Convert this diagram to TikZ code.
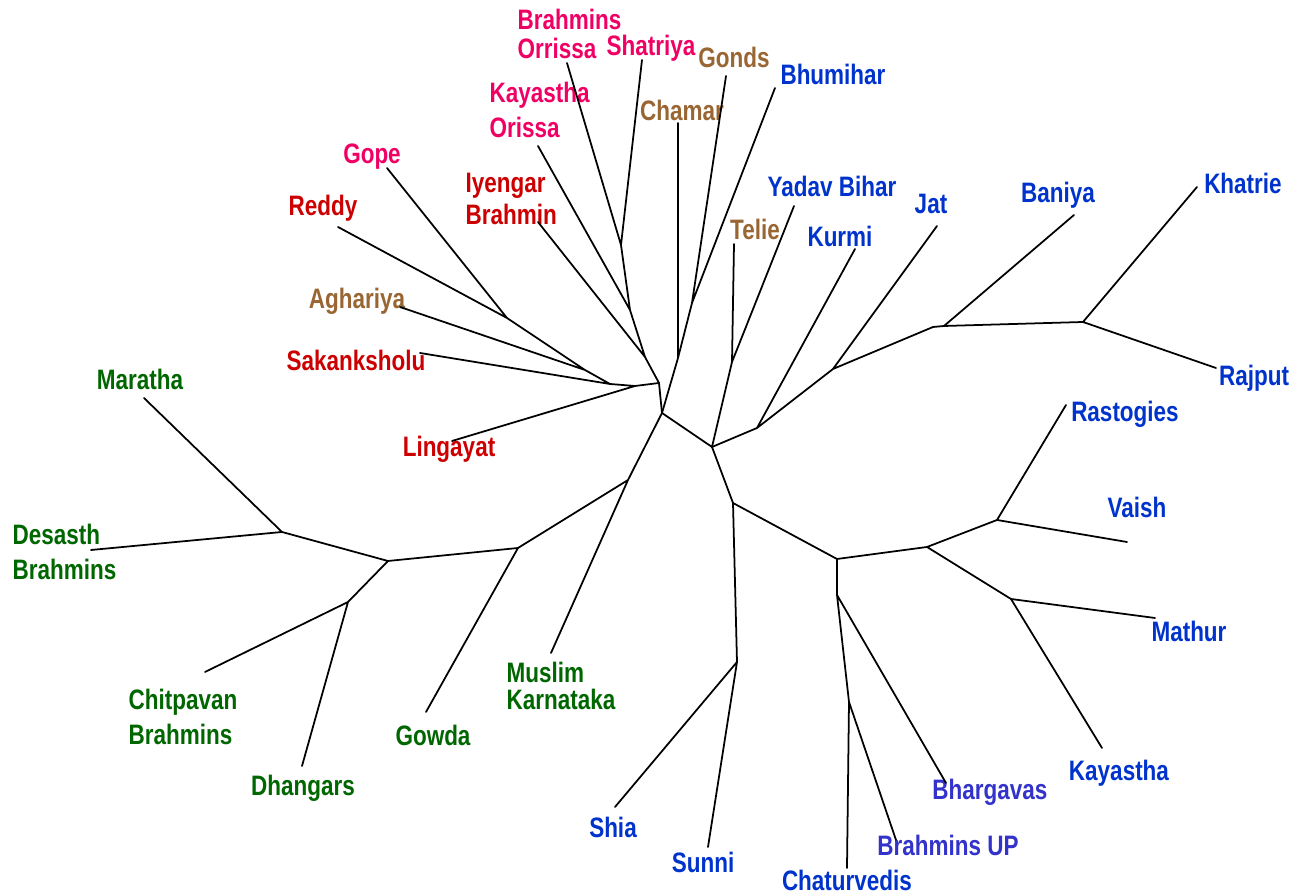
\documentclass[tikz,border=0pt]{standalone}
\usepackage{fontspec}
\newfontfamily\taxfont{Liberation Sans}[FakeStretch=0.8]
\definecolor{orpink}{RGB}{240,0,100}
\definecolor{dravred}{RGB}{204,0,0}
\definecolor{tribebrown}{RGB}{153,102,51}
\definecolor{northblue}{RGB}{0,51,204}
\definecolor{upviolet}{RGB}{51,51,204}
\definecolor{westgreen}{RGB}{0,102,0}
\tikzset{
  taxon/.style={font=\taxfont\bfseries\fontsize{8}{10}\selectfont,inner sep=0pt,align=left},
  pinklab/.style={taxon,text=orpink},
  redlab/.style={taxon,text=dravred},
  brownlab/.style={taxon,text=tribebrown},
  bluelab/.style={taxon,text=northblue},
  violetlab/.style={taxon,text=upviolet},
  greenlab/.style={taxon,text=westgreen},
  branch/.style={line width=0.5pt,line cap=round,line join=round}
}

\begin{document}
\begin{tikzpicture}[x=0.1mm,y=-0.1mm]
\useasboundingbox (0,0) rectangle (1294,895);

% labels
\node[pinklab,anchor=west] (brorissa) at (517,19) {Brahmins};
\node[pinklab,anchor=west] (brorissa2) at (517,48) {Orrissa};
\node[pinklab] (shatriya) at (651,48) {Shatriya};
\node[pinklab,anchor=west] (kayorissa) at (489,110) {Kayastha\\Orissa};
\node[pinklab] (gope) at (372,157) {Gope};
\node[redlab] (reddy) at (323,208) {Reddy};
\node[redlab,anchor=west] (iyengar) at (465,199) {Iyengar\\[-0.9pt]Brahmin};
\node[brownlab] (aghariya) at (357,301) {Aghariya};
\node[redlab] (sakank) at (356,360) {Sakanksholu};
\node[redlab] (lingayat) at (449,449) {Lingayat};
\node[brownlab] (gonds) at (734,57) {Gonds};
\node[brownlab] (chamar) at (682,110) {Chamar};
\node[bluelab] (bhumihar) at (833,74) {Bhumihar};
\node[brownlab] (telie) at (755,229) {Telie};
\node[bluelab] (yadav) at (832,186) {Yadav Bihar};
\node[bluelab] (kurmi) at (840,236) {Kurmi};
\node[bluelab] (jat) at (931,204) {Jat};
\node[bluelab] (baniya) at (1058,195) {Baniya};
\node[bluelab] (khatrie) at (1243,183) {Khatrie};
\node[bluelab] (rajput) at (1254,378) {Rajput};
\node[bluelab] (rastogi) at (1125,414) {Rastogies};
\node[bluelab] (vaish) at (1137,507) {Vaish};
\node[bluelab] (mathur) at (1189,631) {Mathur};
\node[bluelab] (kayastha) at (1119,773) {Kayastha};
\node[violetlab] (bhargava) at (990,792) {Bhargavas};
\node[violetlab] (brup) at (948,845) {Brahmins UP};
\node[bluelab] (chaturv) at (847,880) {Chaturvedis};
\node[bluelab] (sunni) at (703,862) {Sunni};
\node[bluelab] (shia) at (613,827) {Shia};
\node[greenlab,anchor=west] (muslimk) at (506,686) {Muslim\\[-2.3pt]Karnataka};
\node[greenlab] (gowda) at (433,735) {Gowda};
\node[greenlab] (dhangar) at (303,788) {Dhangars};
\node[greenlab,anchor=west] (chitpavan) at (128,717) {Chitpavan\\Brahmins};
\node[greenlab,anchor=west] (desasth) at (12,552) {Desasth\\Brahmins};
\node[greenlab] (maratha) at (140,379) {Maratha};

% leaf tips
\coordinate (t-brorissa) at (567,63);
\coordinate (t-shatriya) at (642,60);
\coordinate (t-kayorissa) at (538,146);
\coordinate (t-gope) at (387,168);
\coordinate (t-reddy) at (338,227);
\coordinate (t-iyengar) at (538,222);
\coordinate (t-aghariya) at (400,307);
\coordinate (t-sakank) at (420,353);
\coordinate (t-lingayat) at (452,441);
\coordinate (t-gonds) at (726,76);
\coordinate (t-chamar) at (678,123);
\coordinate (t-bhumihar) at (775,88);
\coordinate (t-telie) at (734,244);
\coordinate (t-yadav) at (794,206);
\coordinate (t-kurmi) at (855,249);
\coordinate (t-jat) at (937,226);
\coordinate (t-baniya) at (1074,215);
\coordinate (t-khatrie) at (1197,187);
\coordinate (t-rajput) at (1216,368);
\coordinate (t-rastogi) at (1066,405);
\coordinate (t-vaish) at (1127,542);
\coordinate (t-mathur) at (1155,618);
\coordinate (t-kayastha) at (1102,748);
\coordinate (t-bhargava) at (946,783);
\coordinate (t-brup) at (896,840);
\coordinate (t-chaturv) at (847,868);
\coordinate (t-sunni) at (708,847);
\coordinate (t-shia) at (615,807);
\coordinate (t-muslimk) at (551,653);
\coordinate (t-gowda) at (426,712);
\coordinate (t-dhangar) at (302,766);
\coordinate (t-chitpavan) at (205,672);
\coordinate (t-desasth) at (91,550);
\coordinate (t-maratha) at (144,398);

% inner nodes
\coordinate (c1) at (662,413);
\coordinate (l0) at (659,383);
\coordinate (lb) at (635,386);
\coordinate (la) at (610,384);
\coordinate (lag) at (585,370);
\coordinate (lgo) at (507,318);
\coordinate (u1) at (645,357);
\coordinate (u2) at (630,310);
\coordinate (u3) at (621,245);
\coordinate (m1) at (678,358);
\coordinate (m2) at (692,303);
\coordinate (r0) at (712,447);
\coordinate (t1) at (732,362);
\coordinate (r1) at (757,428);
\coordinate (r2) at (833,369);
\coordinate (r3) at (933,327);
\coordinate (rb) at (944,326);
\coordinate (r4) at (1083,322);
\coordinate (b0) at (733,503);
\coordinate (s0) at (737,662);
\coordinate (b1) at (837,559);
\coordinate (b1a) at (837,595);
\coordinate (b1b) at (849,702);
\coordinate (b2) at (927,547);
\coordinate (b3) at (997,520);
\coordinate (b4) at (1011,599);
\coordinate (g0) at (628,480);
\coordinate (g1) at (518,548);
\coordinate (g2) at (388,561);
\coordinate (g3) at (348,602);
\coordinate (g4) at (282,532);

% branches
\draw[branch] (t-brorissa) -- (u3) (t-shatriya) -- (u3) -- (u2) (t-kayorissa) -- (u2) -- (u1)
  (t-iyengar) -- (u1) -- (l0);
\draw[branch] (t-reddy) -- (lgo) (t-gope) -- (lgo) -- (lag) (t-aghariya) -- (lag) -- (la)
  (t-sakank) -- (la) -- (lb) (t-lingayat) -- (lb) -- (l0) -- (c1);
\draw[branch] (t-gonds) -- (m2) (t-bhumihar) -- (m2) -- (m1) (t-chamar) -- (m1) -- (c1);
\draw[branch] (c1) -- (r0) -- (t1) (t-telie) -- (t1) (t-yadav) -- (t1);
\draw[branch] (r0) -- (r1) -- (r2) -- (r3) -- (rb) -- (r4) (t-kurmi) -- (r1) (t-jat) -- (r2)
  (t-baniya) -- (rb) (t-khatrie) -- (r4) (t-rajput) -- (r4);
\draw[branch] (r0) -- (b0) -- (s0) (t-shia) -- (s0) (t-sunni) -- (s0);
\draw[branch] (b0) -- (b1) -- (b1a) -- (b1b) (t-bhargava) -- (b1a) (t-chaturv) -- (b1b) (t-brup) -- (b1b);
\draw[branch] (b1) -- (b2) -- (b3) (t-rastogi) -- (b3) (t-vaish) -- (b3)
  (b2) -- (b4) (t-mathur) -- (b4) (t-kayastha) -- (b4);
\draw[branch] (c1) -- (g0) -- (g1) -- (g2) -- (g4) (t-muslimk) -- (g0) (t-gowda) -- (g1)
  (t-maratha) -- (g4) (t-desasth) -- (g4) (g2) -- (g3) (t-chitpavan) -- (g3) (t-dhangar) -- (g3);
\end{tikzpicture}
\end{document}
